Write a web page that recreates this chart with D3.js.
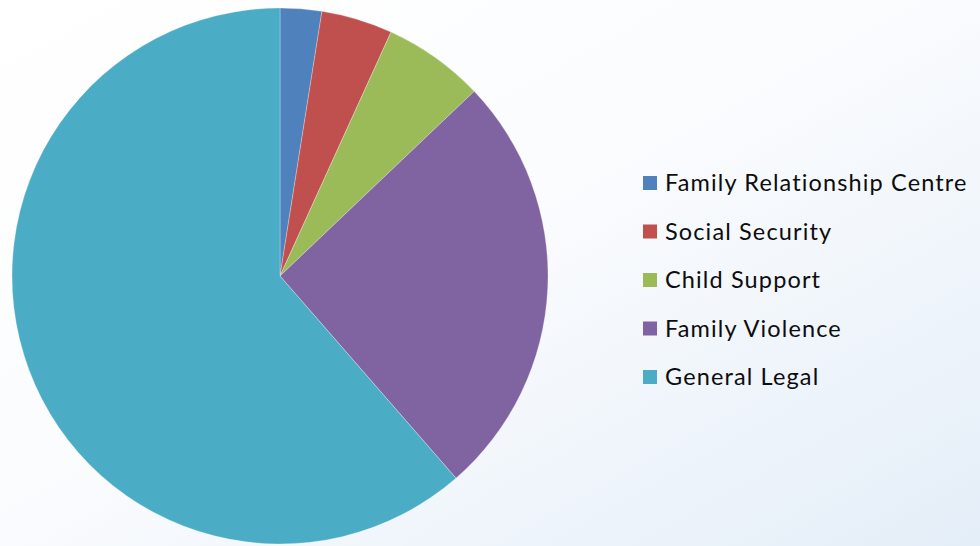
<!DOCTYPE html>
<html><head><meta charset="utf-8">
<script src="https://cdn.jsdelivr.net/npm/d3@7/dist/d3.min.js"></script>
<style>html,body{margin:0;padding:0;background:#fff;}svg{display:block;}</style>
</head><body>
<svg id="chart" width="980" height="546"></svg>
<script>
const categories = ["Family Relationship Centre","Social Security","Child Support","Family Violence","General Legal"];
const values = [2.5, 4.3, 6.1, 25.7, 61.4];
const colors = ["#4f81bd","#c0504d","#9bbb59","#8064a2","#4bacc6"];

const svg = d3.select("#chart");
const defs = svg.append("defs");
const grad = defs.append("linearGradient").attr("id","bg")
  .attr("x1","0%").attr("y1","0%").attr("x2","100%").attr("y2","100%");
grad.append("stop").attr("offset","0%").attr("stop-color","#ffffff");
grad.append("stop").attr("offset","45%").attr("stop-color","#fbfcfe");
grad.append("stop").attr("offset","100%").attr("stop-color","#e4eef8");
svg.append("rect").attr("width",980).attr("height",546).attr("fill","url(#bg)");

const cx = 280, cy = 276, r = 268;
const pie = d3.pie().sort(null).value(d => d.v);
const data = categories.map((c,i)=>({c, v: values[i], col: colors[i]}));
const arc = d3.arc().innerRadius(0).outerRadius(r);
const g = svg.append("g").attr("transform",`translate(${cx},${cy})`);
g.selectAll("path").data(pie(data)).join("path")
  .attr("d", arc).attr("fill", d => d.data.col)
  .attr("stroke","#ffffff").attr("stroke-opacity",0.35).attr("stroke-width",0.8);

const legY = d3.scalePoint().domain(categories).range([183, 377]);
const lg = svg.append("g");
const items = lg.selectAll("g").data(data).join("g")
  .attr("transform", d => `translate(643,${legY(d.c)})`);
items.append("rect").attr("x",0).attr("y",-7).attr("width",14).attr("height",14).attr("fill", d => d.col);
const texts = items.append("text").attr("x",22).attr("y",0).attr("dy","0.36em")
  .attr("font-family","Lato, 'Open Sans', sans-serif").attr("font-size",23.5)
  .attr("fill","#0d0d0d").text(d => d.c);
// fit letter spacing so the longest label spans ~303px like the reference
const first = texts.nodes()[0];
const w = first.getComputedTextLength();
const ls = (303 - w) / (categories[0].length);
texts.attr("letter-spacing", ls + "px");
</script>
</body></html>
